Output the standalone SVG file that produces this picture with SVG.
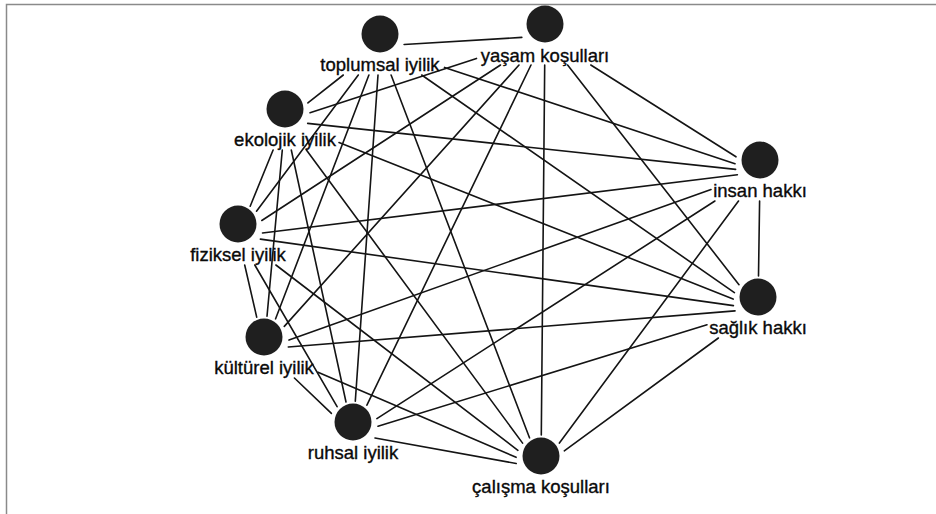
<svg xmlns="http://www.w3.org/2000/svg" width="936" height="514" viewBox="0 0 936 514">
<style>
.frame{stroke:#8a8a8a;stroke-width:1.5;fill:none}
.edges line{stroke:#141414;stroke-width:1.6;stroke-linecap:round}
.node circle{fill:#1f1f1f}
.node text{font-family:"Liberation Sans",Arial,Helvetica,sans-serif;font-size:18.5px;fill:#0a0a0a;stroke:#0a0a0a;stroke-width:0.35;text-anchor:middle}
</style>
<rect width="936" height="514" fill="#fff"/>
<path class="frame" d="M6.5,514 V4.5 H936"/>
<g id="edges" class="edges">
<line x1="404.1" y1="44.5" x2="521.8" y2="37.4"/>
<line x1="343.3" y1="75" x2="307.9" y2="102.9"/>
<line x1="358.3" y1="75" x2="256.5" y2="211.2"/>
<line x1="368.9" y1="75" x2="275.6" y2="318.8"/>
<line x1="378.0" y1="75" x2="355.3" y2="401.1"/>
<line x1="391.1" y1="75" x2="529.5" y2="437.8"/>
<line x1="421.7" y1="75" x2="734.4" y2="292.6"/>
<line x1="444.5" y1="67.4" x2="735.0" y2="163.7"/>
<line x1="476.5" y1="58.4" x2="310.0" y2="112.8"/>
<line x1="500.5" y1="65" x2="261.8" y2="220.5"/>
<line x1="519.0" y1="65" x2="284.3" y2="326.4"/>
<line x1="531.0" y1="65" x2="366.9" y2="405.2"/>
<line x1="544.7" y1="65" x2="541.3" y2="435"/>
<line x1="567.6" y1="65" x2="739.0" y2="284.7"/>
<line x1="590.8" y1="65" x2="736.0" y2="156.8"/>
<line x1="273.1" y1="150" x2="250.2" y2="206.2"/>
<line x1="282.3" y1="150" x2="267.0" y2="316.2"/>
<line x1="291.3" y1="150" x2="346.0" y2="402.0"/>
<line x1="306.4" y1="150" x2="522.6" y2="443.1"/>
<line x1="339.0" y1="142.5" x2="733.1" y2="299.1"/>
<line x1="307.7" y1="123.4" x2="735.6" y2="169.4"/>
<line x1="244.7" y1="265" x2="256.7" y2="317.1"/>
<line x1="254.8" y1="265" x2="337.1" y2="406.7"/>
<line x1="275.9" y1="265" x2="517.9" y2="450.3"/>
<line x1="260.4" y1="239.1" x2="733.4" y2="305.6"/>
<line x1="262.5" y1="233.0" x2="737.4" y2="174.8"/>
<line x1="294.4" y1="378" x2="331.4" y2="413.4"/>
<line x1="318.0" y1="372.2" x2="516.1" y2="457.3"/>
<line x1="288.3" y1="347.0" x2="735.0" y2="310.9"/>
<line x1="289.0" y1="340.1" x2="711.0" y2="189.5"/>
<line x1="375.0" y1="438.0" x2="516.2" y2="463.5"/>
<line x1="378.0" y1="426.3" x2="707.0" y2="324.7"/>
<line x1="376.9" y1="418.6" x2="714.9" y2="201"/>
<line x1="564.3" y1="450.9" x2="718.4" y2="338"/>
<line x1="559.4" y1="443.1" x2="738.5" y2="201"/>
<line x1="758.5" y1="276" x2="759.6" y2="201"/>
</g>
<g id="toplumsal-iyilik" class="node"><circle cx="380" cy="34" r="18.5"/><text x="380" y="71">toplumsal iyilik</text></g>
<g id="yasam-kosullari" class="node"><circle cx="545" cy="24" r="18.5"/><text x="545" y="62">yaşam koşulları</text></g>
<g id="ekolojik-iyilik" class="node"><circle cx="285" cy="109" r="18.5"/><text x="285" y="146">ekolojik iyilik</text></g>
<g id="fiziksel-iyilik" class="node"><circle cx="238" cy="224" r="18.5"/><text x="238" y="261">fiziksel iyilik</text></g>
<g id="kulturel-iyilik" class="node"><circle cx="264" cy="337" r="18.5"/><text x="264" y="374">kültürel iyilik</text></g>
<g id="ruhsal-iyilik" class="node"><circle cx="353" cy="422" r="18.5"/><text x="353" y="459">ruhsal iyilik</text></g>
<g id="calisma-kosullari" class="node"><circle cx="541" cy="456" r="18.5"/><text x="541" y="493">çalışma koşulları</text></g>
<g id="saglik-hakki" class="node"><circle cx="758" cy="297" r="18.5"/><text x="758" y="334">sağlık hakkı</text></g>
<g id="insan-hakki" class="node"><circle cx="760" cy="160" r="18.5"/><text x="760" y="197">insan hakkı</text></g>
</svg>
